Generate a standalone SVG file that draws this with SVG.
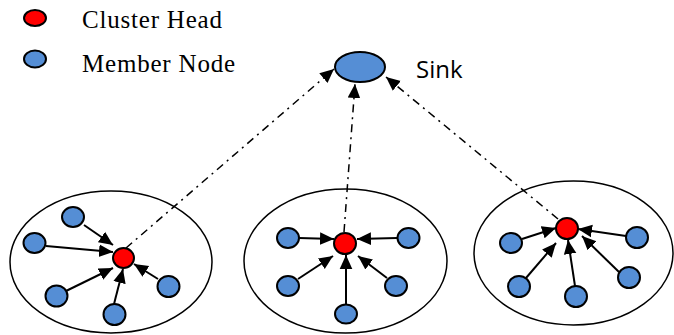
<svg xmlns="http://www.w3.org/2000/svg" width="674" height="335" viewBox="0 0 674 335">
<defs>
<marker id="ah" viewBox="0 0 10 10" refX="10" refY="5" markerWidth="14" markerHeight="14" markerUnits="userSpaceOnUse" orient="auto"><path d="M0,0.5 L10,5 L0,9.5 Z" fill="#000"/></marker>
<style>
.cl{fill:none;stroke:#000;stroke-width:1.5}
.ch{fill:#ff0000;stroke:#000;stroke-width:2}
.mn{fill:#558ed5;stroke:#000;stroke-width:2}
.ar{stroke:#000;stroke-width:2;fill:none;marker-end:url(#ah)}
.dd{stroke:#000;stroke-width:1.5;fill:none;stroke-dasharray:8 5 2 5;marker-end:url(#ah)}
.lg{font-family:"Liberation Serif","Times New Roman",serif;font-size:25px;letter-spacing:0.8px;fill:#000}
.sk{font-family:"Open Sans","Liberation Sans",sans-serif;font-size:24px;fill:#000}
</style>
</defs>
<g id="legend">
<ellipse class="ch" cx="35" cy="18" rx="11" ry="8"/>
<text class="lg" x="82" y="28">Cluster Head</text>
<ellipse class="mn" cx="35" cy="59" rx="11" ry="8.5"/>
<text class="lg" x="82" y="72">Member Node</text>
</g>
<g id="sink">
<ellipse class="mn" cx="360" cy="67" rx="25" ry="15"/>
<text class="sk" x="416" y="78">Sink</text>
</g>
<g id="cluster1">
<ellipse class="cl" cx="111" cy="262" rx="101" ry="71"/>
<ellipse class="ch" cx="123.5" cy="258" rx="10.5" ry="10"/>
<ellipse class="mn" cx="73" cy="217" rx="11" ry="10"/>
<ellipse class="mn" cx="34.5" cy="243" rx="11" ry="10"/>
<ellipse class="mn" cx="56.5" cy="296" rx="11" ry="10.5"/>
<ellipse class="mn" cx="114.5" cy="314.5" rx="11" ry="10.5"/>
<ellipse class="mn" cx="168.5" cy="286.5" rx="11" ry="10.5"/>
</g>
<g id="cluster2">
<ellipse class="cl" cx="345.5" cy="261" rx="101.5" ry="72"/>
<ellipse class="ch" cx="345" cy="243.5" rx="11" ry="10.5"/>
<ellipse class="mn" cx="288" cy="238" rx="11" ry="10"/>
<ellipse class="mn" cx="408.5" cy="238" rx="11" ry="10"/>
<ellipse class="mn" cx="288" cy="286" rx="11" ry="10"/>
<ellipse class="mn" cx="396" cy="286" rx="11" ry="10"/>
<ellipse class="mn" cx="346" cy="314" rx="11" ry="9.5"/>
</g>
<g id="cluster3">
<ellipse class="cl" cx="573.5" cy="253" rx="99.5" ry="72"/>
<ellipse class="ch" cx="567" cy="228.5" rx="11" ry="10.5"/>
<ellipse class="mn" cx="511" cy="243" rx="11" ry="10"/>
<ellipse class="mn" cx="637" cy="237.5" rx="11" ry="10.5"/>
<ellipse class="mn" cx="519" cy="286.5" rx="11" ry="10.5"/>
<ellipse class="mn" cx="576" cy="296.5" rx="11" ry="10.5"/>
<ellipse class="mn" cx="629" cy="277.5" rx="11" ry="10.5"/>
</g>
<g id="connectors">
<path class="ar" d="M84,225 L113,245"/>
<path class="ar" d="M46,246 L113,252"/>
<path class="ar" d="M66,291 L113,268"/>
<path class="ar" d="M114,304 L123,269"/>
<path class="ar" d="M158,279 L134,264"/>
<path class="ar" d="M299,238 L334,239"/>
<path class="ar" d="M397,238 L357,239"/>
<path class="ar" d="M298,279 L333,256"/>
<path class="ar" d="M346,304 L346,255"/>
<path class="ar" d="M387,278 L358,256"/>
<path class="ar" d="M522,239 L556,228"/>
<path class="ar" d="M626,236 L578,229"/>
<path class="ar" d="M526,278 L556,243"/>
<path class="ar" d="M575,286 L568,240"/>
<path class="ar" d="M619,272 L582,236"/>
<path class="dd" d="M126,248 L334,69"/>
<path class="dd" d="M344,232 L355,84"/>
<path class="dd" d="M558,219 L386,77"/>
</g>
</svg>
